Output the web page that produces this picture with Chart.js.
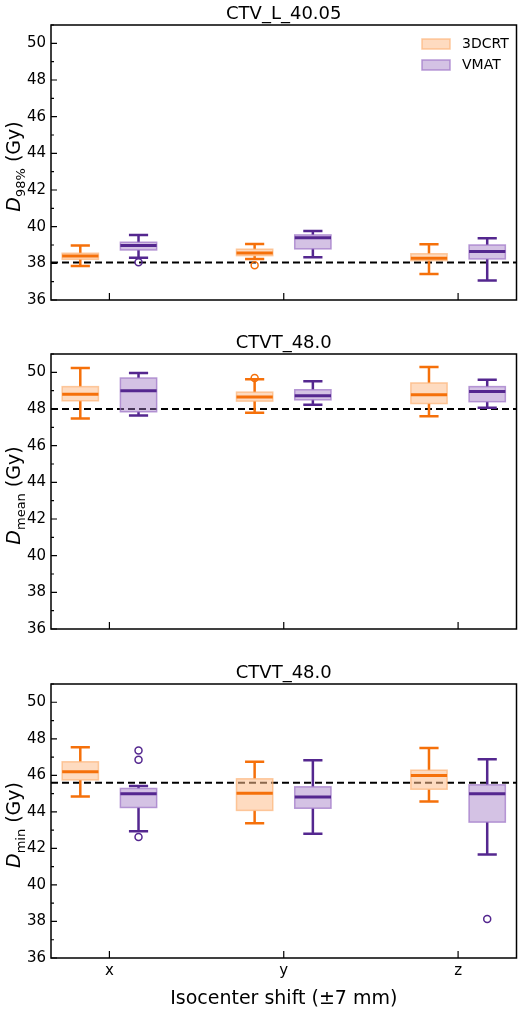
<!DOCTYPE html>
<html>
<head>
<meta charset="utf-8">
<script src="https://cdn.jsdelivr.net/npm/chart.js@4/dist/chart.umd.min.js"></script>
<style>
  body { margin: 0; background: #fff; }
  .panel { position: absolute; left: 0; width: 522px; }
</style>
</head>
<body>
<div class="panel" style="top:0;height:320px"><canvas id="c0"></canvas></div>
<div class="panel" style="top:320px;height:330px"><canvas id="c1"></canvas></div>
<div class="panel" style="top:650px;height:359px"><canvas id="c2"></canvas></div>
<script>
const categories = ['x', 'y', 'z'];
const seriesNames = ['3DCRT', 'VMAT'];
const yTicks = [36, 38, 40, 42, 44, 46, 48, 50];

// [lower whisker, q1, median, q3, upper whisker] for x, y, z
const d98Crt = [[37.86, 38.22, 38.4, 38.55, 38.97], [38.24, 38.42, 38.57, 38.77, 39.06], [37.42, 38.15, 38.28, 38.52, 39.04]];
const d98Vmat = [[38.3, 38.73, 38.97, 39.15, 39.55], [38.33, 38.79, 39.39, 39.55, 39.77], [37.06, 38.24, 38.64, 39.0, 39.37]];
const d98CrtOut = [[], [37.9], []];
const d98VmatOut = [[38.06], [], []];

const meanCrt = [[47.48, 48.45, 48.81, 49.22, 50.24], [47.79, 48.43, 48.65, 48.92, 49.62], [47.61, 48.3, 48.78, 49.42, 50.29]];
const meanVmat = [[47.65, 47.85, 49.0, 49.69, 49.96], [48.23, 48.5, 48.72, 49.05, 49.51], [48.07, 48.4, 48.96, 49.22, 49.6]];
const meanCrtOut = [[], [49.69], []];
const meanVmatOut = [[], [], []];

const minCrt = [[44.84, 45.75, 46.19, 46.74, 47.54], [43.38, 44.08, 45.02, 45.81, 46.75], [44.57, 45.24, 45.99, 46.28, 47.5]];
const minVmat = [[42.94, 44.24, 44.99, 45.28, 45.42], [42.8, 44.2, 44.82, 45.37, 46.83], [41.67, 43.44, 44.99, 45.48, 46.88]];
const minCrtOut = [[], [], []];
const minVmatOut = [[47.36, 46.85, 42.62], [], [38.13]];

const titles = ['CTV_L_40.05', 'CTVT_48.0', 'CTVT_48.0'];
const yLabelSubs = ['98%', 'mean', 'min'];
const refLines = [38.05, 48.0, 45.6];

const crtStyle = { line: '#f5700a', fill: 'rgba(253,190,140,0.55)', edge: 'rgba(252,180,120,0.7)' };
const vmatStyle = { line: '#54278f', fill: 'rgba(160,120,195,0.45)', edge: 'rgba(160,120,200,0.75)' };
const FONT = '"DejaVu Sans", sans-serif';

function boxPlugin(boxes, idx, isLast) {
  return {
    id: 'boxes' + idx,
    beforeDatasetsDraw(chart) {
      const c = chart.ctx, xs = chart.scales.x, ys = chart.scales.y, a = chart.chartArea;
      c.save();
      // ref line
      c.strokeStyle = '#000'; c.lineWidth = 2; c.setLineDash([7, 4]);
      c.beginPath(); c.moveTo(a.left, ys.getPixelForValue(refLines[idx])); c.lineTo(a.right, ys.getPixelForValue(refLines[idx])); c.stroke();
      c.setLineDash([]);
      boxes.forEach(b => {
        b.data.forEach((v, i) => {
          const cx = xs.getPixelForValue(i + b.off);
          const hw = (xs.getPixelForValue(0.104) - xs.getPixelForValue(0));
          const cw = (xs.getPixelForValue(0.055) - xs.getPixelForValue(0));
          const p = v.map(t => ys.getPixelForValue(t));
          c.strokeStyle = b.st.line; c.lineWidth = 2.5;
          c.beginPath();
          c.moveTo(cx, p[0]); c.lineTo(cx, p[1]);
          c.moveTo(cx, p[3]); c.lineTo(cx, p[4]);
          c.moveTo(cx - cw, p[0]); c.lineTo(cx + cw, p[0]);
          c.moveTo(cx - cw, p[4]); c.lineTo(cx + cw, p[4]);
          c.stroke();
          c.fillStyle = b.st.fill; c.fillRect(cx - hw, p[3], 2 * hw, p[1] - p[3]);
          c.strokeStyle = b.st.edge; c.lineWidth = 1.5; c.strokeRect(cx - hw, p[3], 2 * hw, p[1] - p[3]);
          c.strokeStyle = b.st.line; c.lineWidth = 3;
          c.beginPath(); c.moveTo(cx - hw, p[2]); c.lineTo(cx + hw, p[2]); c.stroke();
        });
      });
      c.restore();
    },
    afterDraw(chart) {
      const c = chart.ctx, xs = chart.scales.x, ys = chart.scales.y, a = chart.chartArea;
      c.save();
      c.strokeStyle = '#000'; c.lineWidth = 1.5;
      c.strokeRect(a.left, a.top, a.right - a.left, a.bottom - a.top);
      c.lineWidth = 1.2;
      c.beginPath();
      for (let v = 36; v <= 51; v++) {
        const y = ys.getPixelForValue(v), len = v % 2 === 0 ? 6 : 3;
        c.moveTo(a.left, y); c.lineTo(a.left + len, y);
      }
      categories.forEach((_, i) => {
        const x = xs.getPixelForValue(i);
        c.moveTo(x, a.bottom); c.lineTo(x, a.bottom - 7);
      });
      c.stroke();
      c.fillStyle = '#000';
      c.font = '15px ' + FONT; c.textAlign = 'right'; c.textBaseline = 'middle';
      yTicks.forEach(v => c.fillText(String(v), a.left - 5, ys.getPixelForValue(v)));
      c.textAlign = 'center'; c.textBaseline = 'alphabetic';
      c.font = '18px ' + FONT;
      c.fillText(titles[idx], (a.left + a.right) / 2, a.top - 6);
      // y label
      c.save();
      c.translate(20, (a.top + a.bottom) / 2 + 4);
      c.rotate(-Math.PI / 2);
      c.textBaseline = 'alphabetic';
      c.font = 'italic 19px ' + FONT;
      const w1 = c.measureText('D').width;
      c.font = '13px ' + FONT;
      const w2 = c.measureText(yLabelSubs[idx]).width;
      c.font = '19px ' + FONT;
      const w3 = c.measureText(' (Gy)').width;
      let x0 = -(w1 + w2 + w3) / 2;
      c.textAlign = 'left';
      c.font = 'italic 19px ' + FONT; c.fillText('D', x0, 0);
      c.font = '13px ' + FONT; c.fillText(yLabelSubs[idx], x0 + w1, 5);
      c.font = '19px ' + FONT; c.fillText(' (Gy)', x0 + w1 + w2, 0);
      c.restore();
      if (isLast) {
        c.font = '15px ' + FONT; c.textAlign = 'center'; c.textBaseline = 'top';
        categories.forEach((t, i) => c.fillText(t, xs.getPixelForValue(i), a.bottom + 6));
        c.font = '19px ' + FONT; c.textBaseline = 'alphabetic';
        c.fillText('Isocenter shift (\u00b17 mm)', (a.left + a.right) / 2, a.bottom + 46);
      }
      if (idx === 0) {
        const sts = [crtStyle, vmatStyle];
        c.font = '14px ' + FONT; c.textAlign = 'left'; c.textBaseline = 'middle';
        seriesNames.forEach((n, k) => {
          const y = a.top + 19 + k * 21;
          c.fillStyle = sts[k].fill; c.fillRect(422, y - 5, 28, 10);
          c.strokeStyle = sts[k].edge; c.lineWidth = 1.5; c.strokeRect(422, y - 5, 28, 10);
          c.fillStyle = '#000'; c.fillText(n, 462, y);
        });
      }
      c.restore();
    }
  };
}

function outPoints(list, off) {
  const pts = [];
  list.forEach((vals, i) => vals.forEach(v => pts.push({ x: i + off, y: v })));
  return pts;
}

function makePanel(id, idx, crt, vmat, crtOut, vmatOut, pad, isLast) {
  new Chart(document.getElementById(id), {
    type: 'scatter',
    data: {
      datasets: [
        { data: outPoints(crtOut, -0.167), pointRadius: 3.5, borderWidth: 1.5, pointBorderColor: crtStyle.line, pointBackgroundColor: 'rgba(0,0,0,0)' },
        { data: outPoints(vmatOut, 0.167), pointRadius: 3.5, borderWidth: 1.5, pointBorderColor: vmatStyle.line, pointBackgroundColor: 'rgba(0,0,0,0)' }
      ]
    },
    options: {
      responsive: true, maintainAspectRatio: false, animation: false,
      layout: { padding: pad },
      plugins: { legend: { display: false }, tooltip: { enabled: false } },
      scales: {
        x: { type: 'linear', min: -0.335, max: 2.335, display: false },
        y: { min: 36, max: 51, display: false }
      }
    },
    plugins: [boxPlugin([{ data: crt, off: -0.167, st: crtStyle }, { data: vmat, off: 0.167, st: vmatStyle }], idx, isLast)]
  });
}

makePanel('c0', 0, d98Crt, d98Vmat, d98CrtOut, d98VmatOut, { left: 51, right: 1, top: 25, bottom: 20 }, false);
makePanel('c1', 1, meanCrt, meanVmat, meanCrtOut, meanVmatOut, { left: 51, right: 1, top: 34, bottom: 21 }, false);
makePanel('c2', 2, minCrt, minVmat, minCrtOut, minVmatOut, { left: 51, right: 1, top: 34, bottom: 51 }, true);
</script>
</body>
</html>
